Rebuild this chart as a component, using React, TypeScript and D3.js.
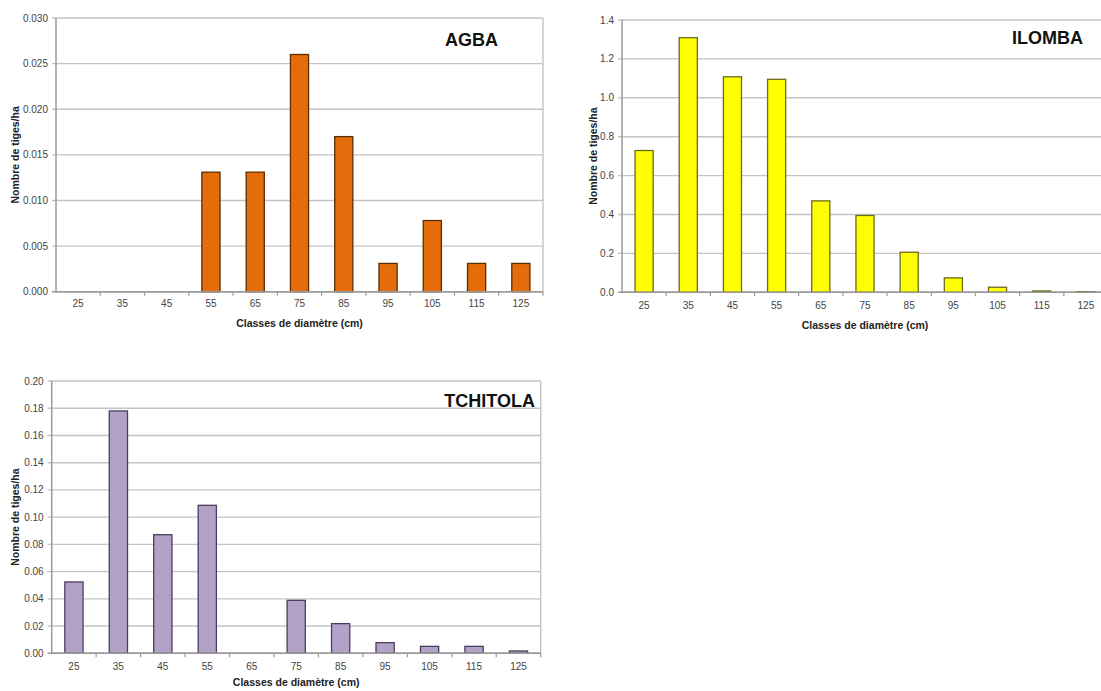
import React from "react";
import * as d3 from "d3";

const categories = ["25", "35", "45", "55", "65", "75", "85", "95", "105", "115", "125"];

const agbaValues = [0, 0, 0, 0.0131, 0.0131, 0.026, 0.017, 0.0031, 0.0078, 0.0031, 0.0031];
const ilombaValues = [0.729, 1.309, 1.108, 1.095, 0.47, 0.395, 0.206, 0.074, 0.026, 0.007, 0.003];
const tchitolaValues = [0.0524, 0.178, 0.0871, 0.1087, 0, 0.0389, 0.0218, 0.0078, 0.0051, 0.0051, 0.0017];

const agbaTicks = [0, 0.005, 0.01, 0.015, 0.02, 0.025, 0.03];
const ilombaTicks = [0, 0.2, 0.4, 0.6, 0.8, 1.0, 1.2, 1.4];
const tchitolaTicks = [0, 0.02, 0.04, 0.06, 0.08, 0.1, 0.12, 0.14, 0.16, 0.18, 0.2];

const yTitle = "Nombre de tiges/ha";
const xTitle = "Classes de diamètre (cm)";

const FONT = "'Liberation Sans', Arial, Helvetica, sans-serif";

type PanelProps = {
  x0: number; x1: number; y0: number; y1: number;
  title: string; titleX: number; titleY: number;
  values: number[]; ticks: number[]; digits: number;
  fill: string; stroke: string;
  xLabelY: number; xTitleY: number; yTitleX: number;
};

function Panel(p: PanelProps) {
  const x = d3.scaleBand<string>().domain(categories).range([p.x0, p.x1]).paddingInner(0.59).paddingOuter(0.295);
  const step = x.step();
  const yMax = p.ticks[p.ticks.length - 1];
  const y = d3.scaleLinear().domain([0, yMax]).range([p.y1, p.y0]);
  const grid = "#c4c4c4";
  const axis = "#9a9a9a";
  return (
    <g>
      {p.ticks.map((t) => (
        <line key={"g" + t} x1={p.x0 - 4} x2={p.x1} y1={y(t)} y2={y(t)} stroke={t === 0 ? axis : grid} strokeWidth={1.4} />
      ))}
      <line x1={p.x1} x2={p.x1} y1={p.y0} y2={p.y1} stroke={grid} strokeWidth={1.4} />
      {p.ticks.map((t) => (
        <text key={"t" + t} x={p.x0 - 8} y={y(t)} dy="0.35em" textAnchor="end" fontSize={10} fill="#444" fontFamily={FONT}>
          {t.toFixed(p.digits)}
        </text>
      ))}
      {categories.map((c, i) =>
        p.values[i] > 0 ? (
          <rect key={"b" + c} x={x(c)} y={y(p.values[i])} width={x.bandwidth()} height={p.y1 - y(p.values[i])}
            fill={p.fill} stroke={p.stroke} strokeWidth={1.3} />
        ) : null
      )}
      <line x1={p.x0} x2={p.x0} y1={p.y0} y2={p.y1 + 0.7} stroke={axis} strokeWidth={1.5} />
      <line x1={p.x0} x2={p.x1} y1={p.y1} y2={p.y1} stroke={axis} strokeWidth={1.5} />
      {categories.map((c, i) => (
        <line key={"xt" + c} x1={p.x0 + step * (i + 1)} x2={p.x0 + step * (i + 1)} y1={p.y1} y2={p.y1 + 4} stroke={axis} strokeWidth={1.2} />
      ))}
      {categories.map((c) => (
        <text key={"xl" + c} x={(x(c) as number) + x.bandwidth() / 2} y={p.xLabelY} textAnchor="middle" fontSize={10} fill="#444" fontFamily={FONT}>
          {c}
        </text>
      ))}
      <text x={(p.x0 + p.x1) / 2} y={p.xTitleY} textAnchor="middle" fontSize={10.5} fontWeight="bold" fill="#222" fontFamily={FONT}>
        {xTitle}
      </text>
      <text transform={`translate(${p.yTitleX},${(p.y0 + p.y1) / 2}) rotate(-90)`} textAnchor="middle" dy="0.35em" fontSize={10.5} fontWeight="bold" fill="#222" fontFamily={FONT}>
        {yTitle}
      </text>
      <text x={p.titleX} y={p.titleY} textAnchor="end" fontSize={18} fontWeight="bold" fill="#111" fontFamily={FONT}>
        {p.title}
      </text>
    </g>
  );
}

export default function App() {
  return (
    <svg width={1101} height={691} style={{ position: "absolute", left: 0, top: 0, background: "#fff" }}>
      <rect x={0} y={0} width={1101} height={691} fill="#fff" />
      <Panel x0={56} x1={543} y0={18} y1={291.7} title="AGBA" titleX={498} titleY={46}
        values={agbaValues} ticks={agbaTicks} digits={3} fill="#E46C0A" stroke="#5a2e05"
        xLabelY={306.5} xTitleY={326.5} yTitleX={15} />
      <Panel x0={622} x1={1108} y0={20} y1={292.3} title="ILOMBA" titleX={1083} titleY={44}
        values={ilombaValues} ticks={ilombaTicks} digits={1} fill="#FFFF00" stroke="#6e6a1e"
        xLabelY={308.5} xTitleY={328.5} yTitleX={593} />
      <Panel x0={51.7} x1={540.7} y0={381} y1={653.3} title="TCHITOLA" titleX={535} titleY={407}
        values={tchitolaValues} ticks={tchitolaTicks} digits={2} fill="#B3A2C7" stroke="#4a3f5c"
        xLabelY={669.5} xTitleY={686} yTitleX={15} />
    </svg>
  );
}
